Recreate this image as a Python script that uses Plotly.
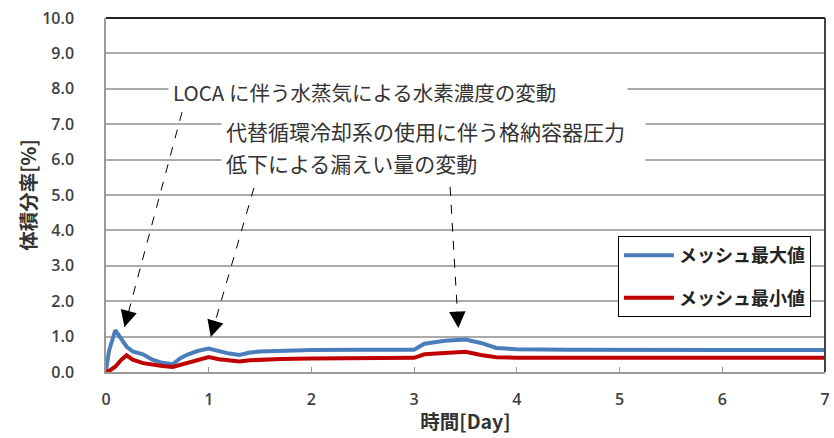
import plotly.graph_objects as go

# ---- data ----
time_day = [0, 0.03, 0.09, 0.15, 0.2, 0.26, 0.36, 0.45, 0.55, 0.65, 0.72, 0.8, 0.9, 1.0,
            1.1, 1.2, 1.3, 1.4, 1.5, 1.7, 2.0, 2.5, 3.0, 3.1, 3.3, 3.5, 3.65, 3.8, 4.0,
            4.5, 5, 6, 7]
mesh_max = [0.05, 0.6, 1.18, 0.9, 0.72, 0.58, 0.5, 0.35, 0.26, 0.22, 0.38, 0.5, 0.6, 0.66,
            0.58, 0.52, 0.48, 0.55, 0.58, 0.6, 0.62, 0.63, 0.63, 0.8, 0.88, 0.92, 0.82, 0.68, 0.64,
            0.63, 0.62, 0.62, 0.62]
mesh_min = [0.0, 0.03, 0.15, 0.35, 0.47, 0.35, 0.25, 0.2, 0.17, 0.14, 0.2, 0.25, 0.33, 0.42,
            0.36, 0.32, 0.3, 0.33, 0.35, 0.37, 0.38, 0.4, 0.4, 0.5, 0.54, 0.57, 0.48, 0.42, 0.4,
            0.4, 0.4, 0.4, 0.4]
series_names = ["メッシュ最大値", "メッシュ最小値"]
series_colors = ["#4a7ebb", "#c00000"]
x_title = "時間[Day]"
y_title = "体積分率[%]"
note1 = "LOCA に伴う水蒸気による水素濃度の変動"
note2_lines = ["代替循環冷却系の使用に伴う格納容器圧力", "低下による漏えい量の変動"]
# arrows: (start_x, start_y, tip_x, tip_y) in data units
arrows = [(0.74, 7.34, 0.18, 1.27), (1.44, 5.2, 1.02, 0.99), (3.35, 5.23, 3.43, 1.24)]

CJK = "Noto Sans CJK JP"
fig = go.Figure()
for name, ys, col in zip(series_names, [mesh_max, mesh_min], series_colors):
    fig.add_trace(go.Scatter(x=time_day, y=ys, mode="lines", name="<b>" + name + "</b>",
                             legendgroup=name,
                             line=dict(color=col, width=4)))

# dashed arrow shafts + heads
PX, PY = 103.6, 35.4
for sx, sy, tx, ty in arrows:
    fig.add_shape(type="line", x0=sx, y0=sy, x1=tx, y1=ty, xref="x", yref="y",
                  line=dict(color="black", width=1, dash="dash"))
    dxp = (sx - tx) * PX
    dyp = -(sy - ty) * PY
    n = (dxp ** 2 + dyp ** 2) ** 0.5
    fig.add_annotation(x=tx, y=ty, xref="x", yref="y", text="", showarrow=True,
                       ax=dxp / n * 18, ay=dyp / n * 18, arrowhead=2, arrowsize=2.2,
                       arrowwidth=1.5, arrowcolor="black")

fig.add_annotation(x=2.84, y=7.91, xref="x", yref="y", text=note1, showarrow=False,
                   font=dict(family=CJK, size=20.5, color="#333333"), bgcolor="white",
                   width=450, align="left", borderpad=4)
for i, line in enumerate(note2_lines):
    fig.add_annotation(x=3.19, y=[6.8, 5.9][i], xref="x", yref="y", text=line, showarrow=False,
                       font=dict(family=CJK, size=21, color="#333333"), bgcolor="white",
                       width=415, align="left", borderpad=4)

# frame top/right
fig.add_shape(type="line", x0=0, x1=1, y0=1, y1=1, xref="paper", yref="paper",
              line=dict(color="#222222", width=2))
fig.add_shape(type="line", x0=1, x1=1, y0=0, y1=1, xref="paper", yref="paper",
              line=dict(color="#444444", width=2))

fig.update_layout(
    width=834, height=438, plot_bgcolor="white", paper_bgcolor="white",
    margin=dict(l=106, r=4, t=18, b=66),
    showlegend=True,
    legend=dict(x=0.712, y=0.384, xanchor="left", yanchor="top", bgcolor="white",
                bordercolor="black", borderwidth=1, tracegroupgap=16,
                font=dict(family=CJK, size=18, color="#222222"), itemwidth=50),
    font=dict(family="Open Sans", color="#404040"),
)
fig.update_xaxes(range=[0, 7], dtick=1, showgrid=False, showline=True, linecolor="#999999",
                 linewidth=1.5, ticks="inside", ticklen=5, tickcolor="#999999",
                 ticklabelstandoff=12, ticklabeloverflow="allow",
                 tickfont=dict(size=16, color="#404040", weight=600),
                 title=dict(text="<b>" + x_title + "</b>", standoff=6,
                            font=dict(family=CJK, size=19.5, color="#333333")),
                 zeroline=False)
fig.update_yaxes(range=[0, 10], dtick=1, tickformat=".1f", showgrid=True, gridcolor="#aaaaaa",
                 gridwidth=1.5, showline=True, linecolor="#999999", linewidth=1.5,
                 ticklabelstandoff=27, tickfont=dict(size=16, color="#404040", weight=600),
                 title=dict(text="<b>" + y_title + "</b>", standoff=0,
                            font=dict(family=CJK, size=19.5, color="#333333")),
                 zeroline=False)

fig.write_html("out.html")
